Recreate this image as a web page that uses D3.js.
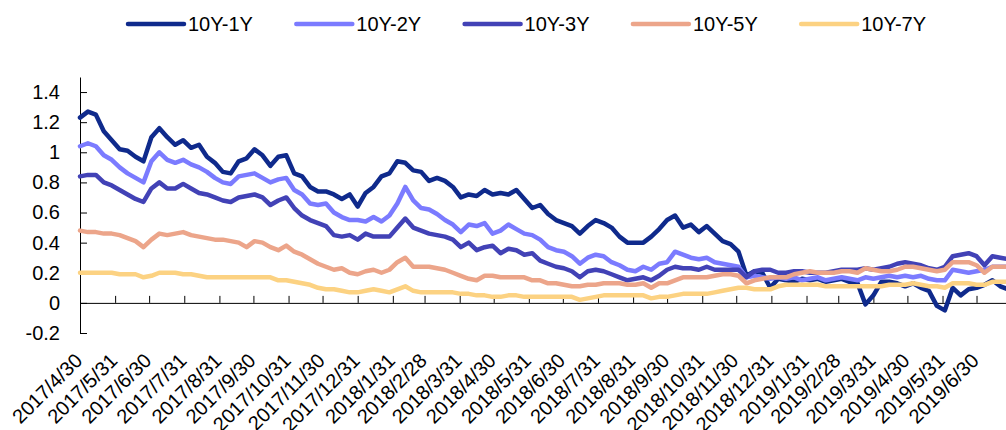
<!DOCTYPE html>
<html>
<head>
<meta charset="utf-8">
<script src="https://cdn.jsdelivr.net/npm/d3@7"></script>
<style>
  html, body { margin: 0; padding: 0; background: #fff; }
  svg { display: block; font-family: "Liberation Sans", Arial, sans-serif; }
</style>
</head>
<body>
<svg id="chart" width="1006" height="430"></svg>
<script>
// Term spreads of government bond yields (10Y minus shorter tenors), weekly samples
const startDate = "2017-04-30";
const endDate = "2019-07-26";

const seriesNames = ["10Y-1Y", "10Y-2Y", "10Y-3Y", "10Y-5Y", "10Y-7Y"];
const seriesColors = ["#0f2a8c", "#7b7bff", "#4242b6", "#eca58a", "#fcd282"];

const spread1Y = [1.23,1.27,1.25,1.14,1.08,1.02,1.01,0.97,0.94,1.10,1.16,1.10,1.05,1.08,1.03,1.05,0.97,0.93,0.87,0.86,
  0.94,0.96,1.02,0.98,0.91,0.97,0.98,0.86,0.84,0.77,0.74,0.74,0.72,0.69,0.72,0.64,0.73,0.77,0.84,0.86,
  0.94,0.93,0.88,0.87,0.81,0.83,0.81,0.77,0.70,0.72,0.71,0.75,0.72,0.73,0.72,0.75,0.69,0.63,0.65,0.59,
  0.55,0.53,0.51,0.46,0.51,0.55,0.53,0.50,0.44,0.40,0.40,0.40,0.44,0.49,0.55,0.58,0.50,0.52,0.47,0.51,
  0.46,0.41,0.39,0.34,0.18,0.21,0.20,0.10,0.16,0.15,0.14,0.16,0.15,0.16,0.14,0.15,0.16,0.14,0.13,-0.01,
  0.05,0.14,0.14,0.13,0.11,0.13,0.10,0.08,-0.02,-0.05,0.10,0.05,0.09,0.10,0.12,0.15,0.11,0.09];

const spread2Y = [1.04,1.06,1.04,0.98,0.95,0.90,0.86,0.83,0.80,0.94,1.00,0.95,0.93,0.95,0.92,0.90,0.87,0.83,0.80,0.79,
  0.84,0.85,0.86,0.83,0.80,0.82,0.83,0.75,0.72,0.66,0.65,0.66,0.60,0.57,0.55,0.55,0.54,0.57,0.54,0.58,
  0.66,0.77,0.68,0.63,0.62,0.59,0.55,0.52,0.47,0.52,0.51,0.53,0.46,0.48,0.52,0.49,0.46,0.45,0.42,0.37,
  0.35,0.34,0.31,0.26,0.30,0.32,0.31,0.27,0.25,0.22,0.21,0.24,0.22,0.26,0.27,0.34,0.32,0.30,0.29,0.30,
  0.27,0.26,0.25,0.24,0.17,0.18,0.17,0.16,0.17,0.16,0.17,0.15,0.16,0.17,0.15,0.16,0.17,0.16,0.15,0.17,
  0.16,0.17,0.18,0.17,0.18,0.17,0.18,0.16,0.15,0.15,0.22,0.21,0.20,0.21,0.22,0.24,0.24,0.24];

const spread3Y = [0.84,0.85,0.85,0.80,0.78,0.75,0.72,0.69,0.67,0.76,0.80,0.76,0.76,0.79,0.76,0.73,0.72,0.70,0.68,0.67,
  0.70,0.71,0.72,0.70,0.65,0.68,0.70,0.63,0.58,0.55,0.53,0.51,0.45,0.44,0.45,0.42,0.46,0.44,0.44,0.44,
  0.50,0.56,0.50,0.48,0.46,0.45,0.44,0.42,0.37,0.40,0.35,0.37,0.38,0.33,0.36,0.35,0.32,0.33,0.28,0.26,
  0.24,0.23,0.21,0.17,0.21,0.22,0.21,0.19,0.17,0.15,0.16,0.17,0.15,0.18,0.22,0.24,0.23,0.23,0.22,0.24,
  0.22,0.22,0.22,0.22,0.17,0.21,0.22,0.22,0.20,0.20,0.21,0.21,0.20,0.20,0.20,0.21,0.22,0.22,0.22,0.23,
  0.22,0.23,0.24,0.26,0.27,0.26,0.25,0.23,0.22,0.24,0.31,0.32,0.33,0.31,0.25,0.31,0.30,0.29];

const spread5Y = [0.48,0.47,0.47,0.46,0.46,0.45,0.43,0.41,0.37,0.42,0.46,0.45,0.46,0.47,0.45,0.44,0.43,0.42,0.42,0.41,
  0.40,0.37,0.41,0.40,0.37,0.35,0.38,0.34,0.32,0.29,0.26,0.24,0.22,0.23,0.20,0.19,0.21,0.22,0.20,0.22,
  0.27,0.30,0.24,0.24,0.24,0.23,0.22,0.20,0.18,0.16,0.15,0.18,0.18,0.17,0.17,0.17,0.17,0.15,0.15,0.13,
  0.13,0.12,0.11,0.11,0.12,0.12,0.13,0.13,0.13,0.12,0.12,0.13,0.10,0.13,0.13,0.15,0.17,0.17,0.17,0.17,
  0.18,0.19,0.19,0.18,0.13,0.15,0.16,0.17,0.17,0.17,0.19,0.20,0.21,0.20,0.20,0.20,0.21,0.21,0.20,0.23,
  0.22,0.21,0.21,0.22,0.24,0.24,0.23,0.22,0.21,0.22,0.27,0.27,0.27,0.25,0.20,0.24,0.24,0.24];

const spread7Y = [0.20,0.20,0.20,0.20,0.20,0.19,0.19,0.19,0.17,0.18,0.20,0.20,0.20,0.19,0.19,0.18,0.17,0.17,0.17,0.17,
  0.17,0.17,0.17,0.17,0.17,0.15,0.15,0.14,0.13,0.12,0.10,0.09,0.09,0.08,0.07,0.07,0.08,0.09,0.08,0.07,
  0.09,0.11,0.08,0.07,0.07,0.07,0.07,0.07,0.06,0.06,0.05,0.05,0.04,0.04,0.05,0.05,0.04,0.04,0.04,0.04,
  0.04,0.04,0.04,0.02,0.03,0.04,0.05,0.05,0.05,0.05,0.05,0.05,0.03,0.04,0.04,0.05,0.06,0.06,0.06,0.06,
  0.07,0.08,0.09,0.10,0.10,0.09,0.09,0.09,0.11,0.12,0.12,0.12,0.12,0.12,0.11,0.11,0.11,0.11,0.11,0.11,
  0.11,0.11,0.12,0.12,0.12,0.13,0.12,0.11,0.11,0.10,0.13,0.13,0.13,0.12,0.12,0.14,0.14,0.14];

const yTicks = [-0.2, 0, 0.2, 0.4, 0.6, 0.8, 1, 1.2, 1.4];
const xTickLabels = ["2017/4/30","2017/5/31","2017/6/30","2017/7/31","2017/8/31","2017/9/30","2017/10/31",
  "2017/11/30","2017/12/31","2018/1/31","2018/2/28","2018/3/31","2018/4/30","2018/5/31","2018/6/30",
  "2018/7/31","2018/8/31","2018/9/30","2018/10/31","2018/11/30","2018/12/31","2019/1/31","2019/2/28",
  "2019/3/31","2019/4/30","2019/5/31","2019/6/30"];

const allSeries = [spread1Y, spread2Y, spread3Y, spread5Y, spread7Y];

// weekly observation dates
const parse = d3.utcParse("%Y-%m-%d");
const parseLabel = d3.utcParse("%Y/%m/%d");
const t0 = parse(startDate);
const dates = spread1Y.map((_, i) => d3.utcDay.offset(t0, 7 * i));

const svg = d3.select("#chart");
const x = d3.scaleUtc().domain([t0, parse(endDate)]).range([80, 1006]);
const y = d3.scaleLinear().domain([-0.2, 1.5]).range([333, 77]);

const fontSize = 20;

// y axis
const yAxis = d3.axisLeft(y)
  .tickValues(yTicks)
  .tickSize(-7)
  .tickSizeOuter(0)
  .tickPadding(20)
  .tickFormat(d => String(Math.round(d * 10) / 10));
const gy = svg.append("g").attr("transform", "translate(80,0)").call(yAxis);
gy.selectAll("text").attr("font-size", fontSize).attr("fill", "#000")
  .attr("font-family", "'Liberation Sans', Arial, sans-serif");
gy.selectAll("line, path").attr("stroke", "#000").attr("stroke-width", 1);

// x axis along the zero line
const xAxis = d3.axisBottom(x)
  .tickValues(xTickLabels.map(s => parseLabel(s)))
  .tickSize(-7)
  .tickSizeOuter(0)
  .tickFormat(d3.utcFormat("%Y/%-m/%-d"));
const gx = svg.append("g").attr("transform", `translate(0,${y(0)})`).call(xAxis);
gx.selectAll("line, path").attr("stroke", "#000").attr("stroke-width", 1);
gx.selectAll("text")
  .attr("font-size", fontSize)
  .attr("fill", "#000")
  .attr("font-family", "'Liberation Sans', Arial, sans-serif")
  .attr("text-anchor", "end")
  .attr("x", 3)
  .attr("y", 59)
  .attr("dy", 0)
  .attr("transform", "rotate(-45,3,59)");

// series lines
const line = d3.line()
  .x((d, i) => x(dates[i]))
  .y(d => y(d));

allSeries.forEach((vals, s) => {
  svg.append("path")
    .datum(vals)
    .attr("fill", "none")
    .attr("stroke", seriesColors[s])
    .attr("stroke-width", 4.5)
    .attr("stroke-linejoin", "round")
    .attr("stroke-linecap", "round")
    .attr("d", line);
});

// legend
const legend = svg.append("g");
seriesNames.forEach((name, i) => {
  const lx = 128 + i * 168.3;
  legend.append("line")
    .attr("x1", lx).attr("x2", lx + 56)
    .attr("y1", 24).attr("y2", 24)
    .attr("stroke", seriesColors[i])
    .attr("stroke-width", 4.5)
    .attr("stroke-linecap", "round");
  legend.append("text")
    .attr("x", lx + 60).attr("y", 31)
    .attr("font-size", fontSize)
    .attr("fill", "#000")
    .text(name);
});
</script>
</body>
</html>
